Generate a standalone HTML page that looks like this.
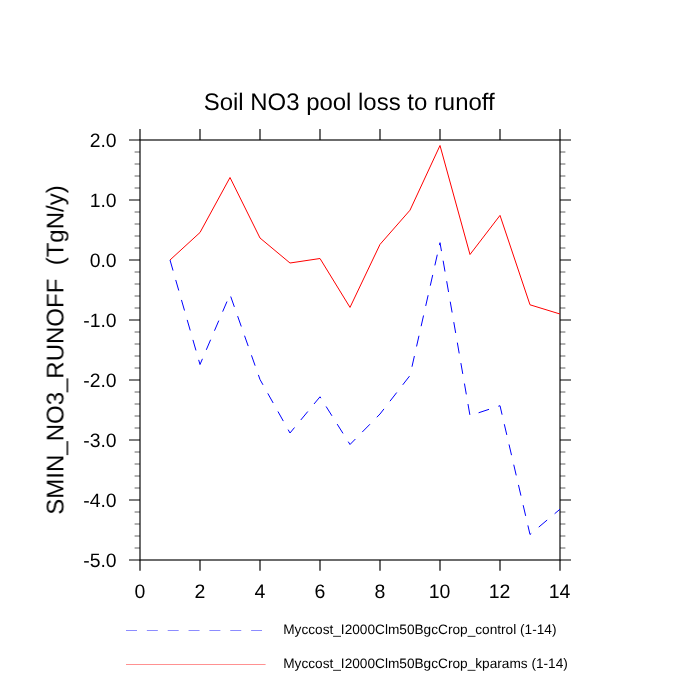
<!DOCTYPE html><html><head><meta charset="utf-8"><title>Soil NO3 pool loss to runoff</title>
<style>html,body{margin:0;padding:0;background:#fff}svg{display:block}svg text{text-rendering:geometricPrecision}text{font-family:"Liberation Sans",sans-serif;fill:#000}</style></head><body>
<svg width="700" height="700" viewBox="0 0 700 700">
<rect width="700" height="700" fill="#fff"/>
<g stroke="#000" stroke-width="1.15" fill="none">
<rect x="140" y="140" width="420" height="420"/>
<path d="M140 129V140M140 560V570.8"/>
<path d="M129 140H140M560 140H571"/>
<path d="M200 129V140M200 560V570.8"/>
<path d="M129 200H140M560 200H571"/>
<path d="M260 129V140M260 560V570.8"/>
<path d="M129 260H140M560 260H571"/>
<path d="M320 129V140M320 560V570.8"/>
<path d="M129 320H140M560 320H571"/>
<path d="M380 129V140M380 560V570.8"/>
<path d="M129 380H140M560 380H571"/>
<path d="M440 129V140M440 560V570.8"/>
<path d="M129 440H140M560 440H571"/>
<path d="M500 129V140M500 560V570.8"/>
<path d="M129 500H140M560 500H571"/>
<path d="M560 129V140M560 560V570.8"/>
<path d="M129 560H140M560 560H571"/>
</g>
<g stroke="#000" stroke-width="0.62" fill="none">
<path d="M134.6 152H140M560 152H565.4"/>
<path d="M134.6 164H140M560 164H565.4"/>
<path d="M134.6 176H140M560 176H565.4"/>
<path d="M134.6 188H140M560 188H565.4"/>
<path d="M134.6 212H140M560 212H565.4"/>
<path d="M134.6 224H140M560 224H565.4"/>
<path d="M134.6 236H140M560 236H565.4"/>
<path d="M134.6 248H140M560 248H565.4"/>
<path d="M134.6 272H140M560 272H565.4"/>
<path d="M134.6 284H140M560 284H565.4"/>
<path d="M134.6 296H140M560 296H565.4"/>
<path d="M134.6 308H140M560 308H565.4"/>
<path d="M134.6 332H140M560 332H565.4"/>
<path d="M134.6 344H140M560 344H565.4"/>
<path d="M134.6 356H140M560 356H565.4"/>
<path d="M134.6 368H140M560 368H565.4"/>
<path d="M134.6 392H140M560 392H565.4"/>
<path d="M134.6 404H140M560 404H565.4"/>
<path d="M134.6 416H140M560 416H565.4"/>
<path d="M134.6 428H140M560 428H565.4"/>
<path d="M134.6 452H140M560 452H565.4"/>
<path d="M134.6 464H140M560 464H565.4"/>
<path d="M134.6 476H140M560 476H565.4"/>
<path d="M134.6 488H140M560 488H565.4"/>
<path d="M134.6 512H140M560 512H565.4"/>
<path d="M134.6 524H140M560 524H565.4"/>
<path d="M134.6 536H140M560 536H565.4"/>
<path d="M134.6 548H140M560 548H565.4"/>
</g>
<polyline points="170,260 200,364.5 230,294.5 260,379.5 290,433 320,396.8 350,444.5 380,414 410,375.5 440,242.7 470,415.6 500,405.7 530,534.5 560,509.2" fill="none" stroke="#0000ff" stroke-width="1" stroke-dasharray="11 9.78"/>
<polyline points="170,260 200,232.5 230,177.5 260,238 290,263 320,258.5 350,307.4 380,244.4 410,210.2 440,145.5 470,254.5 500,215.4 530,304.8 560,314" fill="none" stroke="#ff0000" stroke-width="1" stroke-linejoin="round"/>
<g opacity="0.999">
<text x="349.2" y="110.3" font-size="23.95" text-anchor="middle">Soil NO3 pool loss to runoff</text>
<text transform="translate(63.4 350) rotate(-90)" font-size="24" text-anchor="middle" xml:space="preserve">SMIN_NO3_RUNOFF  (TgN/y)</text>
<text x="116.6" y="146.75" font-size="19.4" text-anchor="end">2.0</text>
<text x="116.6" y="206.75" font-size="19.4" text-anchor="end">1.0</text>
<text x="116.6" y="266.75" font-size="19.4" text-anchor="end">0.0</text>
<text x="116.6" y="326.75" font-size="19.4" text-anchor="end">-1.0</text>
<text x="116.6" y="386.75" font-size="19.4" text-anchor="end">-2.0</text>
<text x="116.6" y="446.75" font-size="19.4" text-anchor="end">-3.0</text>
<text x="116.6" y="506.75" font-size="19.4" text-anchor="end">-4.0</text>
<text x="116.6" y="566.75" font-size="19.4" text-anchor="end">-5.0</text>
<text x="140" y="598" font-size="19.5" text-anchor="middle">0</text>
<text x="200" y="598" font-size="19.5" text-anchor="middle">2</text>
<text x="260" y="598" font-size="19.5" text-anchor="middle">4</text>
<text x="320" y="598" font-size="19.5" text-anchor="middle">6</text>
<text x="380" y="598" font-size="19.5" text-anchor="middle">8</text>
<text x="439.6" y="598" font-size="19.5" text-anchor="middle">10</text>
<text x="499.6" y="598" font-size="19.5" text-anchor="middle">12</text>
<text x="559.6" y="598" font-size="19.5" text-anchor="middle">14</text>
<path d="M126 630.5H262" stroke="#0000ff" stroke-width="0.46" stroke-dasharray="11 9.85" fill="none"/>
<path d="M126 664.5H265.6" stroke="#ff0000" stroke-width="0.44" fill="none"/>
<text x="283.2" y="633.5" font-size="13.67">Myccost_I2000Clm50BgcCrop_control (1-14)</text>
<text x="283.2" y="668.2" font-size="13.67">Myccost_I2000Clm50BgcCrop_kparams (1-14)</text>
</g>
</svg></body></html>
